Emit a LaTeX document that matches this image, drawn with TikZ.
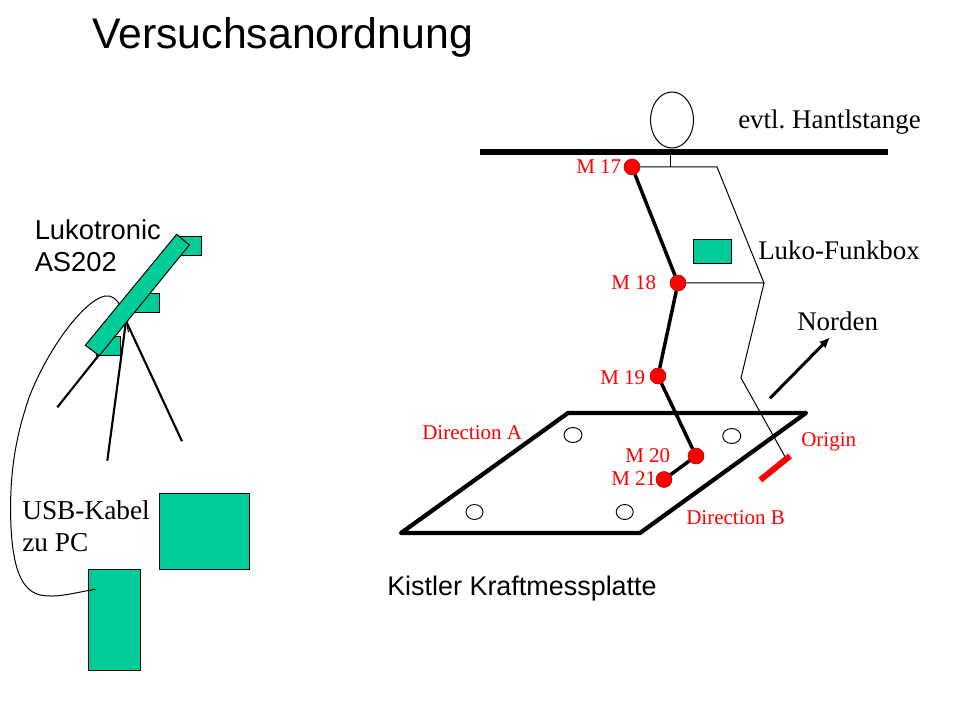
\documentclass[tikz,border=0pt]{standalone}
\usepackage{fontspec}
\usetikzlibrary{arrows.meta}
\setmainfont{Liberation Serif}
\newfontfamily\arialfont{Liberation Sans}
\definecolor{boxgreen}{RGB}{0,204,153}
\definecolor{markred}{RGB}{255,0,0}
\frenchspacing
\tikzset{
  x=0.75pt,y=-0.75pt,
  greenbox/.style={draw=black,fill=boxgreen,line width=0.75pt},
  thinline/.style={draw=black,line width=0.75pt},
  limb/.style={draw=black,line width=2.6pt},
  leg/.style={draw=black,line width=1.6pt},
  plate/.style={draw=black,line width=3.2pt},
  hole/.style={draw=black,line width=0.7pt,fill=white},
  marker/.style={circle,draw=black!30!markred,fill=markred,line width=0.4pt,minimum size=12pt,inner sep=0pt},
  redlabel/.style={text=markred,font=\fontsize{15.75}{18}\selectfont,anchor=base west,inner sep=0pt},
  serif20/.style={text=black,font=\fontsize{20.2}{24}\selectfont,anchor=base west,inner sep=0pt},
  sans20/.style={text=black,font=\arialfont\fontsize{20.2}{24}\selectfont,anchor=base west,inner sep=0pt},
}
\begin{document}
\begin{tikzpicture}
\useasboundingbox[fill=white] (0,0) rectangle (960,720);
% title
\node[text=black,font=\arialfont\fontsize{32.1}{36}\selectfont,anchor=base west,inner sep=0pt] (title) at (92,49) {Versuchsanordnung};
% left: tripod and camera
\coordinate (apex) at (126,321);
\coordinate (legA) at (57.3,407.3);
\coordinate (legB) at (107.3,460.7);
\coordinate (legC) at (182,441.3);
\coordinate (tick) at (128.5,332);
\draw[leg] (apex) -- (legA);
\draw[leg] (apex) -- (legB);
\draw[leg] (apex) -- (legC);
\draw[thinline] (apex) -- (tick);
\draw[greenbox] (180,236.7) rectangle (201.7,255.3);
\draw[greenbox] (133,293.3) rectangle (159.5,312.3);
\draw[greenbox] (96,336) rectangle (120.5,355.5);
\draw[thinline] (95.7,589) .. controls (70,594) and (55,598) .. (40,595)
  .. controls (20,590) and (13,565) .. (11,527)
  .. controls (9,480) and (14,440) .. (30,395)
  .. controls (50,345) and (85,300) .. (105,296)
  .. controls (112,295) and (116,299) .. (120,305);
\draw[greenbox] (176.7,234.3) -- (189.3,245) -- (99.3,355.7) -- (85.3,345.3) -- cycle;
\node[sans20,align=left,font=\arialfont\fontsize{20.5}{24}\selectfont] (luko) at (34.5,272) {Lukotronic\\AS202};
\node[serif20,align=left,font=\fontsize{20.5}{24}\selectfont] (usb) at (22,551.5) {USB-Kabel\\zu PC};
\draw[greenbox] (159.3,493.3) rectangle (249.5,569.3);
\draw[greenbox] (88.3,569.3) rectangle (140.5,670);
\draw[thinline] (88.3,590.7) -- (95.7,589);
% plate
\draw[plate,line join=round] (568,413) -- (806,413) -- (640,533) -- (401,533) -- cycle;
\draw[hole] (573,435) ellipse [x radius=9,y radius=7.5];
\draw[hole] (731.7,436) ellipse [x radius=9,y radius=7.5];
\draw[hole] (474.5,512) ellipse [x radius=8.5,y radius=7.5];
\draw[hole] (624.7,512) ellipse [x radius=8.5,y radius=7.5];
% figure
\draw[draw=black,line width=0.75pt] (672,120) ellipse [x radius=21.5,y radius=28];
\draw[draw=black,line width=4.5pt] (480,152) -- (888,152);
\node[marker] (m17) at (632,167) {};
\node[marker] (m18) at (678,283) {};
\node[marker] (m19) at (658,376) {};
\node[marker] (m20) at (696,456) {};
\node[marker] (m21) at (664,479.5) {};
\coordinate (neck) at (670.5,152);
\coordinate (neckb) at (670.5,167);
\coordinate (sh) at (717,167);
\coordinate (hip) at (764,283);
\coordinate (knee) at (741,378);
\coordinate (oa) at (760.3,480);
\coordinate (ob) at (790,456);
\coordinate (foot) at (785,456.7);
\draw[thinline] (neck) -- (neckb);
\draw[thinline] (m17) -- (sh) -- (hip) -- (m18);
\draw[thinline] (hip) -- (knee) -- (foot);
\draw[limb] (m17) -- (m18);
\draw[limb] (m18) -- (m19);
\draw[limb] (m19) -- (m20);
\draw[limb] (m20) -- (m21);
\draw[draw=markred,line width=4.5pt] (oa) -- (ob);
\draw[greenbox] (693.3,239.3) rectangle (731.7,263.3);
% north arrow
\coordinate (na) at (770,398.3);
\coordinate (nb) at (830,337.3);
\draw[draw=black,line width=2.25pt,-{Latex[length=8pt,width=7pt]}] (na) -- (nb);
% labels
\node[serif20] (hantl) at (738,129) {evtl. Hantlstange};
\node[serif20] (funk) at (758,260) {Luko-Funkbox};
\node[serif20] (nord) at (797,330) {Norden};
\node[sans20] (kist) at (387,595) {Kistler Kraftmessplatte};
\node[redlabel] (l17) at (576,174) {M 17};
\node[redlabel] (l18) at (611,290) {M 18};
\node[redlabel] (l19) at (600,384) {M 19};
\node[redlabel] (l20) at (625,462) {M 20};
\node[redlabel] (l21) at (611,485) {M 21};
\node[redlabel] (da) at (422,439.5) {Direction A};
\node[redlabel] (db) at (686,524.5) {Direction B};
\node[redlabel] (orig) at (801,446.5) {Origin};
\end{tikzpicture}
\end{document}
